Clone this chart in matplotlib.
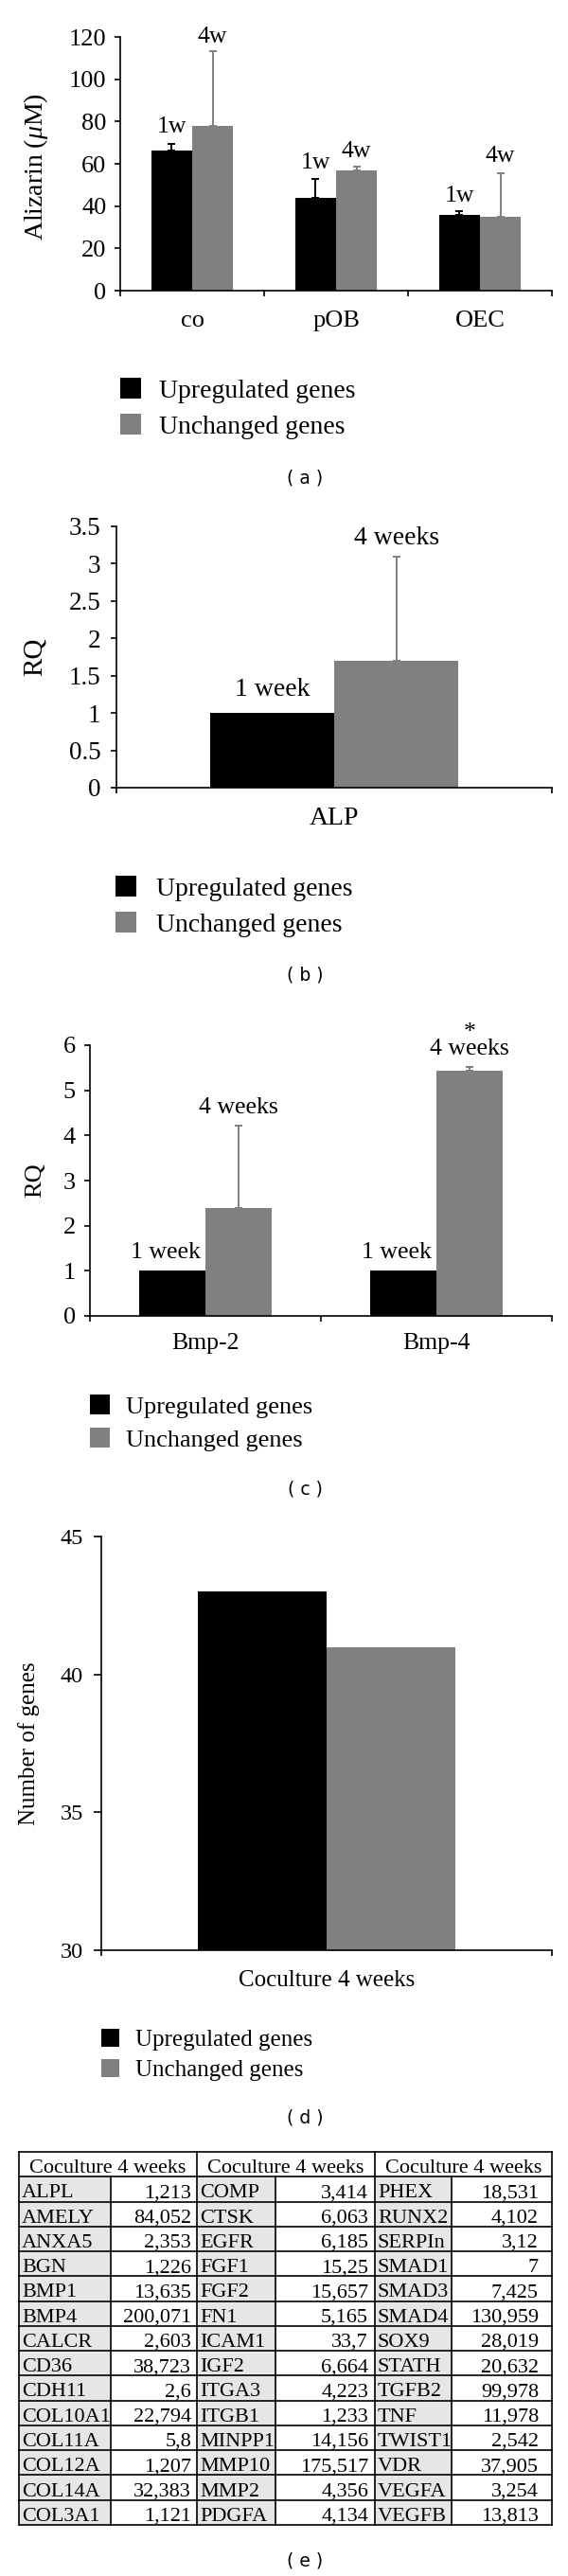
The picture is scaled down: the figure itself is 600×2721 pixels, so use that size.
import matplotlib
matplotlib.use('Agg')
import matplotlib.pyplot as plt
from matplotlib.patches import Rectangle
import numpy as np

plt.rcParams['font.family'] = ['Liberation Serif', 'DejaVu Serif']
plt.rcParams['mathtext.fontset'] = 'custom'
plt.rcParams['mathtext.rm'] = 'Liberation Serif'
plt.rcParams['mathtext.it'] = 'Liberation Serif:italic'

# ---------------- data ----------------
series_names = ['Upregulated genes', 'Unchanged genes']

a_groups = ['co', 'pOB', 'OEC']
a_1w = [66.3, 44.0, 35.8]
a_1w_err = [3.0, 9.0, 1.7]
a_4w = [77.9, 57.0, 35.1]
a_4w_err = [35.5, 1.8, 20.4]
a_ticks = [0, 20, 40, 60, 80, 100, 120]

b_groups = ['ALP']
b_1w = [1.0]
b_4w = [1.70]
b_4w_err = [1.40]
b_ticks = [0, 0.5, 1, 1.5, 2, 2.5, 3, 3.5]

c_groups = ['Bmp-2', 'Bmp-4']
c_1w = [1.0, 1.0]
c_4w = [2.40, 5.44]
c_4w_err = [1.82, 0.08]
c_ticks = [0, 1, 2, 3, 4, 5, 6]

d_groups = ['Coculture 4 weeks']
d_up = [43]
d_unch = [41]
d_ticks = [30, 35, 40, 45]

tbl_header = 'Coculture 4 weeks'
tbl_genes1 = ['ALPL', 'AMELY', 'ANXA5', 'BGN', 'BMP1', 'BMP4', 'CALCR', 'CD36', 'CDH11',
              'COL10A1', 'COL11A', 'COL12A', 'COL14A', 'COL3A1']
tbl_vals1 = ['1,213', '84,052', '2,353', '1,226', '13,635', '200,071', '2,603', '38,723', '2,6',
             '22,794', '5,8', '1,207', '32,383', '1,121']
tbl_genes2 = ['COMP', 'CTSK', 'EGFR', 'FGF1', 'FGF2', 'FN1', 'ICAM1', 'IGF2', 'ITGA3',
              'ITGB1', 'MINPP1', 'MMP10', 'MMP2', 'PDGFA']
tbl_vals2 = ['3,414', '6,063', '6,185', '15,25', '15,657', '5,165', '33,7', '6,664', '4,223',
             '1,233', '14,156', '175,517', '4,356', '4,134']
tbl_genes3 = ['PHEX', 'RUNX2', 'SERPIn', 'SMAD1', 'SMAD3', 'SMAD4', 'SOX9', 'STATH', 'TGFB2',
              'TNF', 'TWIST1', 'VDR', 'VEGFA', 'VEGFB']
tbl_vals3 = ['18,531', '4,102', '3,12', '7', '7,425', '130,959', '28,019', '20,632', '99,978',
             '11,978', '2,542', '37,905', '3,254', '13,813']

# ---------------- layout ----------------
W, H = 600, 2721
fig = plt.figure(figsize=(6, 27.21), dpi=100)
BLACK = '#000000'
GRAY = '#808080'
BAR_W = 0.2857


def ax_px(left, top, right, bottom):
    return fig.add_axes([left / W, 1 - bottom / H, (right - left) / W, (bottom - top) / H])


def draw_bars(ax, groups, v1, v2, e1=None, e2=None):
    x = np.arange(len(groups)) + 0.5
    kw1 = {}
    kw2 = {}
    if e1 is not None:
        kw1 = dict(yerr=[np.zeros(len(e1)), e1],
                   error_kw=dict(ecolor=BLACK, elinewidth=1.4, capsize=3, capthick=1.4))
    if e2 is not None:
        kw2 = dict(yerr=[np.zeros(len(e2)), e2],
                   error_kw=dict(ecolor=GRAY, elinewidth=1.4, capsize=3, capthick=1.4))
    ax.bar(x - BAR_W / 2, v1, BAR_W, color=BLACK, zorder=2, **kw1)
    ax.bar(x + BAR_W / 2, v2, BAR_W, color=GRAY, zorder=2, **kw2)
    return x


def style(ax, groups, ylim, yticks, tickfs, xfs, xpad, ypad, ylen=4, fmt=None):
    n = len(groups)
    ax.set_xlim(0, n)
    ax.set_ylim(*ylim)
    for s in ['top', 'right']:
        ax.spines[s].set_visible(False)
    for s in ['left', 'bottom']:
        ax.spines[s].set_linewidth(1.2)
    ax.set_xticks(np.arange(n + 1))
    ax.set_xticklabels([])
    ax.set_xticks(np.arange(n) + 0.5, minor=True)
    ax.set_xticklabels(groups, minor=True, fontsize=xfs)
    ax.tick_params(axis='x', which='major', length=4.5, width=1.2, direction='out')
    ax.tick_params(axis='x', which='minor', length=0, pad=xpad)
    ax.set_yticks(yticks)
    if fmt is not None:
        ax.set_yticklabels([fmt(t) for t in yticks])
    ax.tick_params(axis='y', length=ylen, width=1.2, labelsize=tickfs, pad=ypad)


def legend(x, y1, y2, size, textx, fs):
    for y, c, lab in [(y1, BLACK, series_names[0]), (y2, GRAY, series_names[1])]:
        fig.add_artist(Rectangle((x / W, 1 - (y + size) / H), size / W, size / H,
                                 transform=fig.transFigure, facecolor=c, edgecolor='none'))
        fig.text(textx / W, 1 - (y + size - 1) / H, lab, fontsize=fs, ha='left', va='baseline')


def caption(y, s):
    fig.text(322 / W, 1 - y / H, s, family='DejaVu Sans', fontsize=13.5, ha='center', va='center')


# ---------------- panel a ----------------
ax = ax_px(127, 39, 583, 307)
x = draw_bars(ax, a_groups, a_1w, a_4w, a_1w_err, a_4w_err)
style(ax, a_groups, (0, 120), a_ticks, 19, 19, 15, 6.5)
ax.set_ylabel(r'Alizarin ($\mu$M)', fontsize=20)
ax.yaxis.label.set_va('center')
ax.yaxis.set_label_coords(-0.195, 0.49)
a_lab1_y = [74.8, 57.7, 42.2]
a_lab4_y = [117.3, 63.1, 61.0]
for xi, y1, y4 in zip(x, a_lab1_y, a_lab4_y):
    ax.text(xi - BAR_W / 2, y1, '1w', fontsize=18.5, ha='center', va='baseline')
    ax.text(xi + BAR_W / 2, y4, '4w', fontsize=18.5, ha='center', va='baseline', clip_on=False)
legend(127, 399, 437, 22, 168, 20)
caption(505, '( a )')

# ---------------- panel b ----------------
ax = ax_px(123, 556, 583, 832)
x = draw_bars(ax, b_groups, b_1w, b_4w, None, b_4w_err)
style(ax, b_groups, (0, 3.5), b_ticks, 19.5, 20, 14.5, 8, fmt=lambda t: '%g' % t)
ax.set_ylabel('RQ', fontsize=21)
ax.yaxis.label.set_va('center')
ax.yaxis.set_label_coords((37 - 123) / 460, 0.5)
ax.text(x[0] - BAR_W / 2, 1.23, '1 week', fontsize=20, ha='center', va='baseline')
ax.text(x[0] + BAR_W / 2, 3.26, '4 weeks', fontsize=20, ha='center', va='baseline')
legend(122, 925, 963, 22, 165, 20)
caption(1030, '( b )')

# ---------------- panel c ----------------
ax = ax_px(95, 1104, 583, 1390)
x = draw_bars(ax, c_groups, c_1w, c_4w, None, c_4w_err)
style(ax, c_groups, (0, 6), c_ticks, 19, 18.5, 13, 7)
ax.set_ylabel('RQ', fontsize=19)
ax.yaxis.label.set_va('center')
ax.yaxis.set_label_coords((37 - 95) / 488, 0.5)
c_lab4_y = [4.49, 5.79]
for xi, y4 in zip(x, c_lab4_y):
    ax.text(xi - BAR_W / 2 - 0.03, 1.28, '1 week', fontsize=18.5, ha='center', va='baseline')
    ax.text(xi + BAR_W / 2, y4, '4 weeks', fontsize=18.5, ha='center', va='baseline', clip_on=False)
ax.text(x[1] + BAR_W / 2, 6.14, '*', fontsize=18.5, ha='center', va='baseline', clip_on=False)
legend(95, 1473, 1508, 21, 133, 19)
caption(1573, '( c )')

# ---------------- panel d ----------------
ax = ax_px(107, 1623, 583, 2060)
x = draw_bars(ax, d_groups, d_up, d_unch)
style(ax, d_groups, (30, 45), d_ticks, 17.5, 18, 15, 8, ylen=5.8)
ax.set_ylabel('Number of genes', fontsize=18)
ax.yaxis.label.set_va('center')
ax.yaxis.set_label_coords((31 - 107) / 476, 0.5)
legend(107, 2143, 2175, 19, 143, 18)
caption(2237, '( d )')

# ---------------- table (e) ----------------
col_x = [20, 117, 208, 291, 396, 477, 583]
n_rows = len(tbl_genes1) + 1
axt = ax_px(20, 2273, 583, 2667)
axt.set_xlim(20, 583)
axt.set_ylim(n_rows, 0)
axt.axis('off')
LW = 1.2
cols = [(tbl_genes1, tbl_vals1), (tbl_genes2, tbl_vals2), (tbl_genes3, tbl_vals3)]
val_right = [202, 389, 569]
for ci, (genes, vals) in enumerate(cols):
    xl, xm, xr = col_x[2 * ci], col_x[2 * ci + 1], col_x[2 * ci + 2]
    axt.text((xl + xr) / 2, 0.84, tbl_header, fontsize=16, ha='center', va='baseline')
    for ri, (g, v) in enumerate(zip(genes, vals)):
        r = ri + 1
        axt.add_patch(Rectangle((xl, r), xm - xl, 1, facecolor='#e6e6e6', edgecolor='none', zorder=0))
        axt.text(xl + 3, r + 0.84, g, fontsize=16, ha='left', va='baseline')
        axt.text(val_right[ci], r + 0.84, v, fontsize=16, ha='right', va='baseline')
for r in range(n_rows + 1):
    axt.plot([col_x[0], col_x[-1]], [r, r], color='black', lw=LW, clip_on=False, solid_capstyle='projecting')
for cx in [col_x[0], col_x[2], col_x[4], col_x[6]]:
    axt.plot([cx, cx], [0, n_rows], color='black', lw=LW, clip_on=False, solid_capstyle='projecting')
for cx in [col_x[1], col_x[3], col_x[5]]:
    axt.plot([cx, cx], [1, n_rows], color='black', lw=LW, clip_on=False)
caption(2705, '( e )')

fig.savefig('out.png', dpi=100)
